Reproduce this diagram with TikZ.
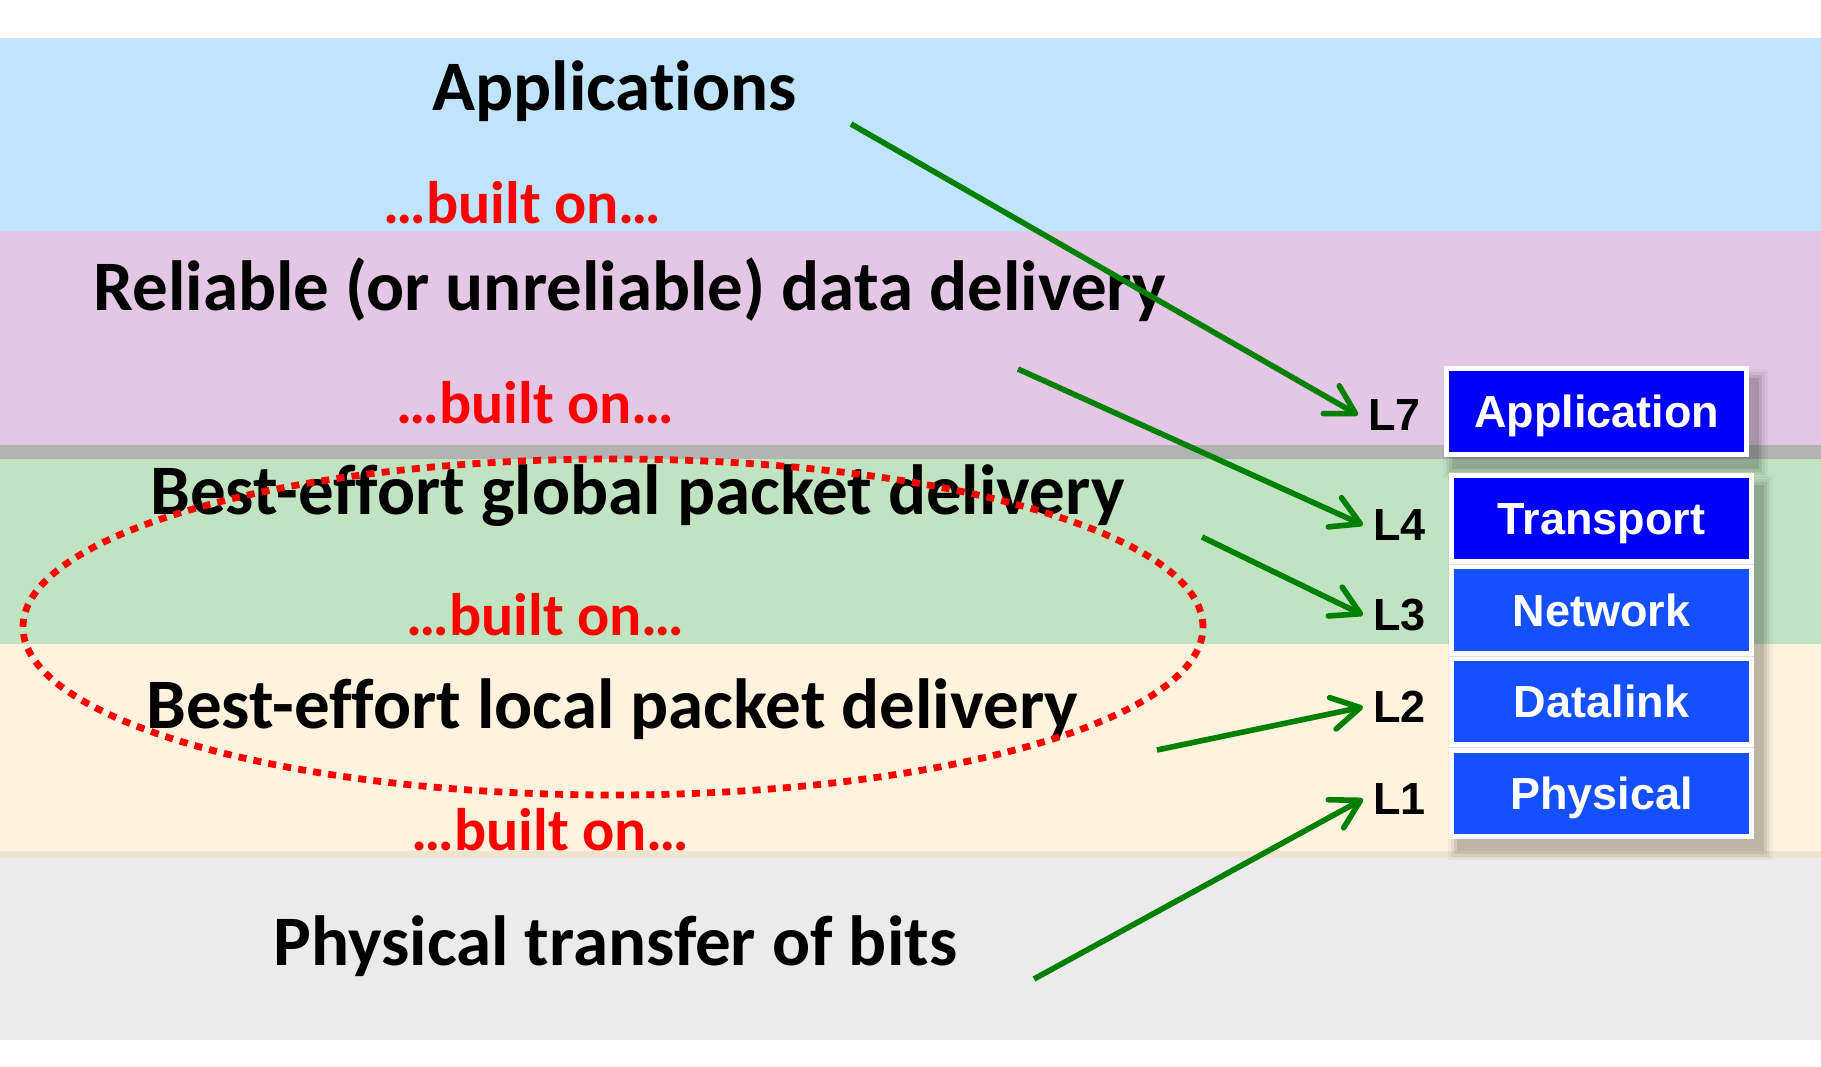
\documentclass[tikz,border=0pt]{standalone}
\usepackage{fontspec}
\setmainfont{Carlito}[Ligatures=NoCommon]
\newfontfamily\arialfont{Liberation Sans}
\usetikzlibrary{arrows.meta}
\definecolor{bandblue}{HTML}{C0E4FC}
\definecolor{bandpink}{HTML}{E4C7E4}
\definecolor{bandstrip}{HTML}{B3B3B3}
\definecolor{bandgreen}{HTML}{C0E3C2}
\definecolor{bandcream}{HTML}{FFF3DE}
\definecolor{bandbeige}{HTML}{EFE4D0}
\definecolor{bandgrey}{HTML}{EBEBEB}
\definecolor{arrowgreen}{HTML}{008000}
\definecolor{boxblue}{HTML}{0000FF}
\definecolor{boxblueb}{HTML}{1450FF}
\begin{document}
\begin{tikzpicture}[x=0.5pt,y=-0.5pt,
  bigtext/.style={anchor=base west, inner sep=0, text=black, font=\fontsize{35.5}{40}\selectfont\bfseries},
  redtext/.style={anchor=base west, inner sep=0, text=red, font=\fontsize{30}{34}\selectfont\bfseries},
  laylabel/.style={anchor=west, inner xsep=5pt, inner ysep=0, text=black, font=\arialfont\fontsize{22.5}{26}\selectfont\bfseries},
  layerbox/.style={minimum width=147.5pt, minimum height=40.75pt, inner sep=0, text height=16.1pt, text depth=0pt, text=white, font=\arialfont\fontsize{22.5}{26}\selectfont\bfseries},
  greenarrow/.style={draw=arrowgreen, line width=2.8pt, -{Straight Barb[length=14pt,width=16pt,round]}}
]
\useasboundingbox (0,0) rectangle (1821,1066);
\fill[white] (0,0) rectangle (1821,1066);
% bands
\fill[bandblue] (0,38) rectangle (1821,231);
\fill[bandpink] (0,231) rectangle (1821,445);
\fill[bandstrip] (0,445) rectangle (1821,459);
\fill[bandgreen] (0,459) rectangle (1821,644);
\fill[bandcream] (0,644) rectangle (1821,851);
\fill[bandbeige] (0,851) rectangle (1821,858);
\fill[bandgrey] (0,858) rectangle (1821,1040);
% texts
\node[bigtext] (tapp) at (432,110) {Applications};
\node[bigtext] (trel) at (93,310) {Reliable (or unreliable) data delivery};
\node[bigtext] (tglob) at (150,514) {Best-effort global packet delivery};
\node[bigtext] (tloc) at (146,728) {Best-effort local packet delivery};
\node[bigtext] (tphy) at (273,965) {Physical transfer of bits};
\node[redtext] (b1) at (383,223) {…built on…};
\node[redtext] (b2) at (396,423) {…built on…};
\node[redtext] (b3) at (406,635) {…built on…};
\node[redtext] (b4) at (411,850) {…built on…};
% dotted ellipse
\draw[red, line width=3.4pt, dash pattern=on 4pt off 3.6pt] (613,627) ellipse [x radius=295pt, y radius=84pt];
% shadows
\foreach \d/\o in {0/0.10,3/0.08,6/0.06,9/0.04} {
  \fill[black, opacity=\o] (1452-\d,378-\d) rectangle (1759+\d,469+\d);
  \fill[black, opacity=\o] (1457-\d,485-\d) rectangle (1764+\d,851+\d);
}
% layer boxes
\node[layerbox, fill=boxblue, draw=white, line width=2.5pt, minimum width=150pt, minimum height=43pt] (app) at (1596.5,411.5) {Application};
\fill[white] (1449,473) rectangle (1754,839);
\draw[black!12, line width=0.5pt] (1449,564) -- (1754,564) (1449,656) -- (1754,656) (1449,747.5) -- (1754,747.5);
\node[layerbox, fill=boxblue] (tra) at (1601.5,518.5) {Transport};
\node[layerbox, fill=boxblueb] (net) at (1601.5,610) {Network};
\node[layerbox, fill=boxblueb] (dat) at (1601.5,701.5) {Datalink};
\node[layerbox, fill=boxblueb] (phy) at (1601.5,793.5) {Physical};
% labels
\node[laylabel] (l7) at (1358,415) {L7};
\node[laylabel] (l4) at (1363,525) {L4};
\node[laylabel] (l3) at (1363,615) {L3};
\node[laylabel] (l2) at (1363,707) {L2};
\node[laylabel] (l1) at (1363,799) {L1};
% arrows
\coordinate (s7) at (851,124);
\coordinate (s4) at (1018,369);
\coordinate (s3) at (1202,537);
\coordinate (s2) at (1157,750);
\coordinate (s1) at (1034,979);
\draw[greenarrow] (s7) -- (l7.west);
\draw[greenarrow] (s4) -- (l4.west);
\draw[greenarrow] (s3) -- (l3.west);
\draw[greenarrow] (s2) -- (l2.west);
\draw[greenarrow] (s1) -- (l1.west);
\end{tikzpicture}
\end{document}
